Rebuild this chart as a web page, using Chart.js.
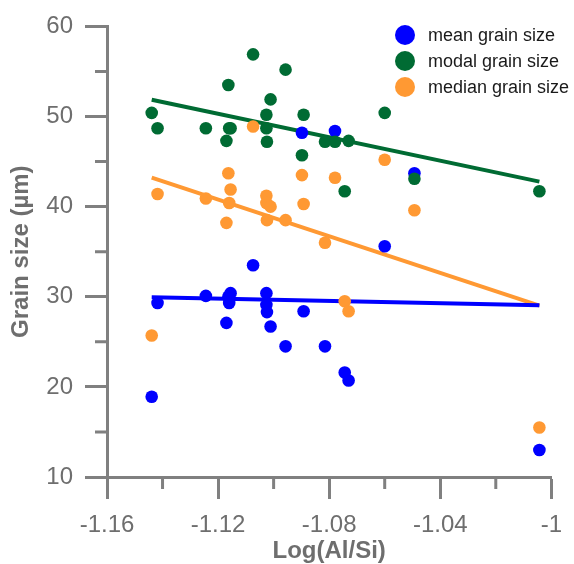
<!DOCTYPE html>
<html lang="en">
<head>
<meta charset="UTF-8">
<title>Grain size vs Log(Al/Si)</title>
<script src="https://cdn.jsdelivr.net/npm/chart.js"></script>
<style>
  html, body { margin: 0; padding: 0; background: #fff; }
  #wrap { width: 574px; height: 564px; position: relative; }
</style>
</head>
<body>
<div id="wrap"><canvas id="chartGrain"></canvas></div>
<script>
// values, one sample per index
var logAlSi = [-1.1439, -1.1418, -1.1244, -1.1170, -1.1163, -1.1160, -1.1155, -1.1074, -1.1026, -1.1026, -1.1024,
               -1.1011, -1.0957, -1.0898, -1.0892, -1.0815, -1.0779, -1.0744, -1.0730, -1.0600, -1.0493, -1.0043];
var meanSize = [18.9, 29.3, 30.1, 27.1, 30.0, 29.3, 30.4, 33.5, 30.4, 29.1, 28.3,
                26.7, 24.5, 48.2, 28.4, 24.5, 48.4, 21.6, 20.7, 35.6, 43.7, 13.0];
var modalSize = [50.4, 48.7, 48.7, 47.3, 53.5, 48.7, 48.7, 56.9, 50.2, 48.7, 47.2,
                 51.9, 55.2, 45.7, 50.2, 47.2, 47.2, 41.7, 47.3, 50.4, 43.1, 41.7];
var medianSize = [25.7, 41.4, 40.9, 38.2, 43.7, 40.4, 41.9, 48.9, 41.2, 40.4, 38.5,
                  40.0, 38.5, 43.5, 40.3, 36.0, 43.2, 29.5, 28.4, 45.2, 39.6, 15.5];
var seriesNames = ['mean grain size', 'modal grain size', 'median grain size'];
var xTickLabels = ['-1.16', '-1.12', '-1.08', '-1.04', '-1'];
var yTickLabels = ['10', '20', '30', '40', '50', '60'];

var colBlue = '#0000ff';
var colGreen = '#006b33';
var colOrange = '#ff9933';
var axisGrey = '#808080';
var textGrey = '#6e6e6e';
var fontFam = '"Liberation Sans", Arial, sans-serif';

function toPoints(ys) {
    var pts = [];
    for (var i = 0; i < logAlSi.length; i++) pts.push({ x: logAlSi[i], y: ys[i] });
    return pts;
}

// least squares trend line between the smallest and largest x
function trend(ys) {
    var n = logAlSi.length, sx = 0, sy = 0, sxx = 0, sxy = 0;
    for (var i = 0; i < n; i++) {
        sx += logAlSi[i]; sy += ys[i];
        sxx += logAlSi[i] * logAlSi[i]; sxy += logAlSi[i] * ys[i];
    }
    var b = (n * sxy - sx * sy) / (n * sxx - sx * sx);
    var a = (sy - b * sx) / n;
    var x0 = Math.min.apply(null, logAlSi), x1 = Math.max.apply(null, logAlSi);
    return [{ x: x0, y: a + b * x0 }, { x: x1, y: a + b * x1 }];
}

function dot(label, ys, color, order) {
    return { type: 'scatter', label: label, data: toPoints(ys), backgroundColor: color, borderWidth: 0,
             pointRadius: 6.3, pointHoverRadius: 6.3, order: order };
}
function line(ys, color) {
    return { type: 'line', label: '', data: trend(ys), borderColor: color, borderWidth: 4,
             pointRadius: 0, fill: false, order: 10 };
}

// short minor ticks (the library only draws one tick length)
var minorTicks = {
    id: 'minorTicks',
    afterDraw: function (chart) {
        var c = chart.ctx, xs = chart.scales.x, ys = chart.scales.y;
        c.save();
        c.strokeStyle = axisGrey;
        c.lineWidth = 3;
        c.beginPath();
        ys.ticks.forEach(function (t) {
            if (Math.round(t.value) % 10 !== 0) {
                var py = ys.getPixelForValue(t.value);
                c.moveTo(chart.chartArea.left - 12, py); c.lineTo(chart.chartArea.left, py);
            }
        });
        xs.ticks.forEach(function (t) {
            if (Math.round(t.value * 100) % 4 !== 0) {
                var px = xs.getPixelForValue(t.value);
                c.moveTo(px, chart.chartArea.bottom); c.lineTo(px, chart.chartArea.bottom + 12);
            }
        });
        c.stroke();
        c.restore();
    }
};

// legend in the upper right corner, from the scatter datasets
var cornerLegend = {
    id: 'cornerLegend',
    afterDraw: function (chart) {
        var c = chart.ctx;
        c.save();
        c.font = '18px ' + fontFam;
        c.textBaseline = 'middle';
        c.fillStyle = '#1a1a1a';
        chart.data.datasets.forEach(function (ds) {
            if (ds.type !== 'scatter') return;
            var k = seriesNames.indexOf(ds.label);
            var cy = 35 + k * 26;
            c.beginPath();
            c.fillStyle = ds.backgroundColor;
            c.arc(405, cy, 10, 0, Math.PI * 2);
            c.fill();
            c.fillStyle = '#1a1a1a';
            c.fillText(ds.label, 428, cy + 1);
        });
        c.restore();
    }
};

var ctxGrain = document.getElementById('chartGrain').getContext('2d');
var chartGrain = new Chart(ctxGrain, {
    data: {
        datasets: [
            line(meanSize, colBlue),
            line(modalSize, colGreen),
            line(medianSize, colOrange),
            dot(seriesNames[0], meanSize, colBlue, 3),
            dot(seriesNames[1], modalSize, colGreen, 2),
            dot(seriesNames[2], medianSize, colOrange, 1)
        ]
    },
    options: {
        responsive: true,
        maintainAspectRatio: false,
        animation: false,
        events: [],
        layout: { padding: { top: 22, right: 22, bottom: 0, left: 0 } },
        plugins: { legend: { display: false }, tooltip: { enabled: false } },
        scales: {
            x: {
                type: 'linear', min: -1.16, max: -1.0,
                afterFit: function (s) { s.height = 87; },
                border: { color: axisGrey, width: 3 },
                grid: {
                    drawOnChartArea: false, tickLength: 22, tickWidth: 3,
                    tickColor: function (ctx) {
                        return Math.round(ctx.tick.value * 100) % 4 === 0 ? axisGrey : 'rgba(0,0,0,0)';
                    }
                },
                ticks: {
                    stepSize: 0.02, autoSkip: false, maxRotation: 0, padding: 12,
                    color: textGrey, font: { family: fontFam, size: 24 },
                    callback: function (v) {
                        var r = Math.round(v * 100);
                        if (r % 4 !== 0) return '';
                        var s = String(r / 100);
                        return xTickLabels.indexOf(s) >= 0 ? s : '';
                    }
                },
                title: {
                    display: true, text: 'Log(Al/Si)', color: textGrey,
                    font: { family: fontFam, size: 24, weight: 'bold', lineHeight: 1 },
                    padding: { top: 0, bottom: 1 }
                }
            },
            y: {
                type: 'linear', min: 10, max: 60,
                afterFit: function (s) { s.width = 107; },
                border: { color: axisGrey, width: 3 },
                grid: {
                    drawOnChartArea: false, tickLength: 22, tickWidth: 3,
                    tickColor: function (ctx) {
                        return Math.round(ctx.tick.value) % 10 === 0 ? axisGrey : 'rgba(0,0,0,0)';
                    }
                },
                ticks: {
                    stepSize: 5, autoSkip: false, padding: 12,
                    color: textGrey, font: { family: fontFam, size: 24 },
                    callback: function (v) {
                        var s = String(Math.round(v));
                        return (Math.round(v) % 10 === 0 && yTickLabels.indexOf(s) >= 0) ? s : '';
                    }
                },
                title: {
                    display: true, text: 'Grain size (µm)', color: textGrey,
                    font: { family: fontFam, size: 24, weight: 'bold' },
                    padding: { top: 7, bottom: 0 }
                }
            }
        }
    },
    plugins: [minorTicks, cornerLegend]
});
</script>
</body>
</html>
